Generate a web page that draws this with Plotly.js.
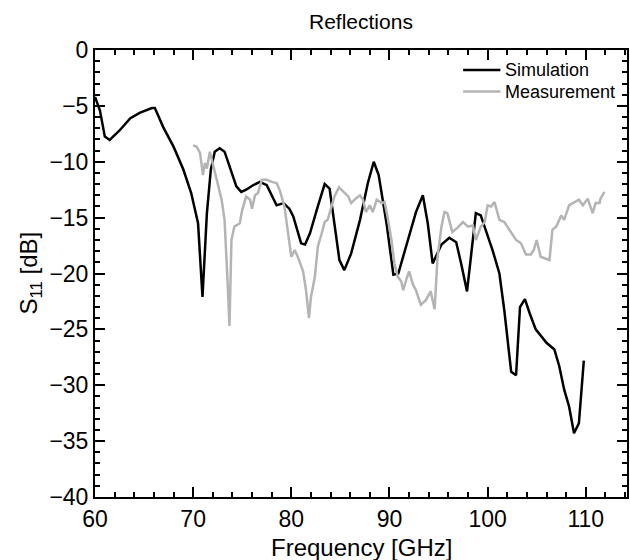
<!DOCTYPE html>
<html>
<head>
<meta charset="utf-8">
<script src="https://cdn.plot.ly/plotly-3.0.1.min.js"></script>
<style>html,body{margin:0;padding:0;background:#fff;}#chart{width:630px;height:560px;}</style>
</head>
<body>
<div id="chart"></div>
<script>
const simFreq = [60.0,60.5,61.0,61.5,62.5,63.6,64.6,65.8,66.1,66.95,68.0,69.0,69.8,70.5,70.95,71.4,71.8,72.2,72.7,73.2,73.7,74.4,74.9,75.4,76.1,76.8,77.5,78.0,78.5,79.2,79.8,80.2,81.0,81.4,81.9,82.7,83.4,83.9,84.4,84.9,85.4,86.1,87.0,87.8,88.4,88.9,89.7,90.4,90.9,91.7,92.7,93.4,93.9,94.4,95.3,96.1,96.8,97.3,97.9,98.3,98.8,99.3,99.8,100.5,101.2,101.7,102.4,102.9,103.3,103.8,104.3,104.9,106.0,106.8,107.3,107.8,108.3,108.8,109.3,109.8];
const simS11 = [-4.2,-5.4,-7.75,-8.05,-7.2,-6.1,-5.6,-5.2,-5.2,-6.9,-8.65,-10.7,-12.8,-15.5,-22.1,-14.6,-10.7,-9.1,-8.8,-9.1,-10.4,-12.2,-12.7,-12.5,-12.1,-11.8,-12.1,-13.0,-13.9,-13.7,-14.2,-14.9,-17.3,-17.4,-16.4,-14.0,-12.0,-12.4,-15.8,-18.8,-19.7,-18.2,-15.2,-11.9,-10.0,-11.2,-15.5,-20.1,-20.0,-17.6,-14.5,-13.0,-15.5,-19.1,-17.4,-16.8,-17.2,-19.1,-21.6,-18.5,-14.6,-14.8,-16.1,-17.9,-20.0,-23.3,-28.8,-29.1,-23.0,-22.3,-23.6,-25.0,-26.2,-26.8,-28.3,-30.4,-31.9,-34.3,-33.4,-27.8];
const measFreq = [70.0,70.35,70.7,71.0,71.2,71.4,71.7,72.0,72.4,72.9,73.2,73.5,73.7,73.9,74.2,74.75,75.0,75.4,75.8,76.0,76.3,76.6,77.0,77.5,78.0,78.5,78.8,79.3,79.7,80.0,80.35,80.7,81.2,81.5,81.8,82.0,82.4,82.7,83.1,83.4,83.7,84.1,84.4,84.85,85.3,85.8,86.1,86.55,87.0,87.3,87.6,88.0,88.3,88.7,89.2,89.5,89.8,90.2,90.5,90.85,91.2,91.4,91.7,92.0,92.4,92.7,93.2,93.7,94.2,94.6,94.9,95.3,95.6,95.9,96.4,96.95,97.5,98.0,98.5,98.8,99.3,99.7,100.0,100.35,100.7,101.2,101.7,102.2,102.9,103.4,103.9,104.4,104.7,105.0,105.4,106.0,106.3,106.6,107.0,107.5,107.8,108.3,109.0,109.3,109.7,110.2,110.7,111.0,111.4,111.5,111.9];
const measS11 = [-8.55,-8.65,-9.2,-11.2,-10.1,-10.6,-9.1,-10.3,-11.6,-13.4,-15.2,-20.6,-24.7,-17.0,-15.8,-15.5,-14.3,-13.1,-13.4,-14.2,-13.0,-12.8,-11.6,-11.6,-11.8,-11.9,-12.5,-14.0,-16.4,-18.5,-17.9,-18.6,-19.8,-21.5,-24.0,-22.1,-20.3,-17.6,-16.4,-15.4,-15.2,-14.0,-13.1,-12.3,-12.7,-13.1,-13.7,-13.3,-13.0,-13.4,-14.5,-13.9,-14.5,-13.4,-13.7,-13.6,-14.9,-17.0,-19.1,-20.3,-20.7,-21.5,-20.6,-19.8,-21.0,-21.5,-22.8,-22.4,-21.6,-23.2,-18.5,-15.8,-14.5,-14.6,-16.3,-15.9,-15.4,-15.8,-15.7,-17.0,-15.8,-15.4,-13.9,-14.0,-13.6,-15.2,-15.4,-16.1,-17.0,-17.3,-18.3,-18.3,-17.9,-17.0,-18.5,-18.7,-18.8,-16.1,-15.8,-14.8,-15.2,-13.9,-13.6,-13.4,-13.9,-13.3,-14.6,-13.7,-13.7,-13.3,-12.7];
const seriesNames = ['Simulation', 'Measurement'];
const seriesColors = ['#000000', 'rgb(180,180,180)'];
const chartTitle = 'Reflections';
const xTitle = 'Frequency [GHz]';
const yTitle = 'S<sub>11</sub> [dB]';
const xRange = [60, 114.2], yRange = [-40, 0];
const xTickStart = 60, xTickStep = 10, xMinorStep = 2;
const yTickStart = 0, yTickStep = 5, yMinorStep = 1;

const FONT = 'Liberation Sans, Arial, sans-serif';
const traces = [
  {x: simFreq, y: simS11, name: seriesNames[0], type: 'scatter', mode: 'lines',
   xaxis: 'x', yaxis: 'y', showlegend: false, line: {color: seriesColors[0], width: 2.5}},
  {x: measFreq, y: measS11, name: seriesNames[1], type: 'scatter', mode: 'lines',
   xaxis: 'x2', yaxis: 'y2', showlegend: false, line: {color: seriesColors[1], width: 2.5}}
];

// legend drawn as paper-referenced sample lines + text labels
const legendY = [0.955, 0.907];
const legendShapes = legendY.map((yy, i) => ({
  type: 'line', xref: 'paper', yref: 'paper', x0: 0.692, x1: 0.762, y0: yy, y1: yy,
  line: {color: seriesColors[i], width: 2.5}
}));
const legendLabels = legendY.map((yy, i) => ({
  text: seriesNames[i], xref: 'paper', yref: 'paper', x: 0.766, y: yy,
  xanchor: 'left', yanchor: 'middle', showarrow: false,
  font: {family: FONT, size: 18, color: '#000'}
}));

const layout = {
  width: 630, height: 560,
  margin: {l: 95, r: 3, t: 50, b: 63},
  paper_bgcolor: '#fff', plot_bgcolor: '#fff',
  showlegend: false,
  xaxis: {
    range: xRange, tick0: xTickStart, dtick: xTickStep, anchor: 'y',
    showline: true, linecolor: '#000', linewidth: 2, mirror: 'allticks',
    ticks: 'inside', ticklen: 10, tickwidth: 2, tickcolor: '#000',
    showgrid: false, zeroline: false,
    tickfont: {family: FONT, size: 23, color: '#000'}
  },
  yaxis: {
    range: yRange, tick0: yTickStart, dtick: yTickStep, anchor: 'x',
    showline: true, linecolor: '#000', linewidth: 2, mirror: 'allticks',
    ticks: 'inside', ticklen: 10, tickwidth: 2, tickcolor: '#000',
    showgrid: false, zeroline: false,
    tickfont: {family: FONT, size: 23, color: '#000'}
  },
  xaxis2: {
    range: xRange, tick0: xTickStart, dtick: xMinorStep, overlaying: 'x', anchor: 'y2', side: 'bottom',
    showline: false, mirror: 'allticks', ticks: 'inside', ticklen: 5, tickwidth: 1.5, tickcolor: '#000',
    showticklabels: false, showgrid: false, zeroline: false
  },
  yaxis2: {
    range: yRange, tick0: yTickStart, dtick: yMinorStep, overlaying: 'y', anchor: 'x2', side: 'left',
    showline: false, mirror: 'allticks', ticks: 'inside', ticklen: 5, tickwidth: 1.5, tickcolor: '#000',
    showticklabels: false, showgrid: false, zeroline: false
  },
  shapes: legendShapes,
  annotations: [
    {text: chartTitle, xref: 'paper', yref: 'paper', x: 0.5, y: 1.063, xanchor: 'center', yanchor: 'middle',
     showarrow: false, font: {family: FONT, size: 21, color: '#000'}},
    {text: xTitle, xref: 'paper', yref: 'paper', x: 0.5, y: -0.112, xanchor: 'center', yanchor: 'middle',
     showarrow: false, font: {family: FONT, size: 24, color: '#000'}},
    {text: yTitle, xref: 'paper', yref: 'paper', x: -0.122, y: 0.5, xanchor: 'center', yanchor: 'middle',
     textangle: -90, showarrow: false, font: {family: FONT, size: 24, color: '#000'}}
  ].concat(legendLabels)
};
Plotly.newPlot('chart', traces, layout, {displayModeBar: false});
</script>
</body>
</html>
